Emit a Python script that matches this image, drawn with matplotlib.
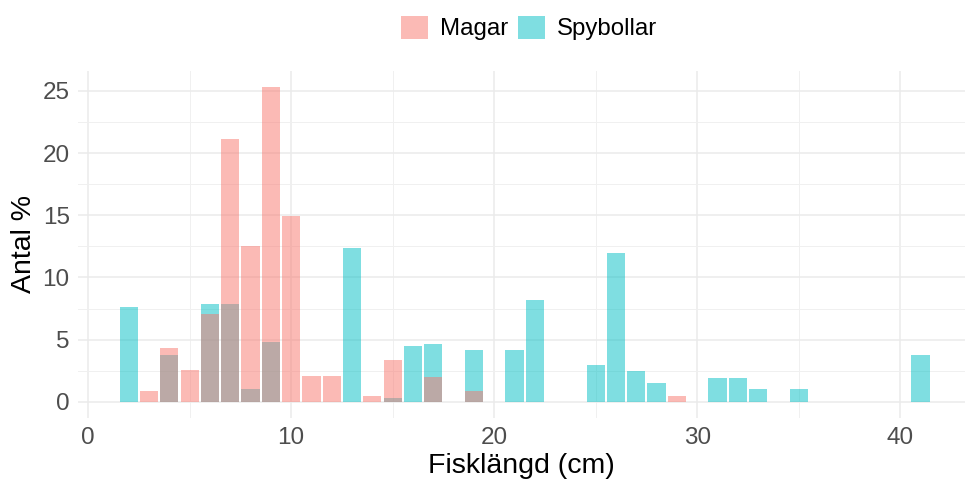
import numpy as np
import matplotlib
matplotlib.use("Agg")
import matplotlib.pyplot as plt
from matplotlib.colors import to_rgba
from matplotlib.patches import Patch

plt.rcParams['font.family'] = ['Liberation Sans', 'DejaVu Sans']

# --- data (percent per 1 cm length class) ---
magar_len = [3, 4, 5, 6, 7, 8, 9, 10, 11, 12, 14, 15, 17, 19, 29]
magar_pct = [0.9, 4.3, 2.55, 7.05, 21.1, 12.5, 25.3, 14.95, 2.05, 2.05, 0.45, 3.4, 2.0, 0.9, 0.45]

spy_len = [2, 4, 6, 7, 8, 9, 13, 15, 16, 17, 19, 21, 22, 25, 26, 27, 28, 31, 32, 33, 35, 41]
spy_pct = [7.6, 3.8, 7.9, 7.9, 1.0, 4.8, 12.4, 0.3, 4.5, 4.65, 4.15, 4.15, 8.2,
           2.95, 12.0, 2.45, 1.55, 1.9, 1.9, 1.05, 1.05, 3.8]

series_names = ['Magar', 'Spybollar']
series_colors = ['#F8766D', '#00BFC4']
ALPHA = 0.5

fig = plt.figure(figsize=(9.69, 4.8), dpi=100)
ax = fig.add_axes([0.0805, 0.130, 0.9155, 0.722])

# cyan first, red on top -> greyish-brown overlap like the reference
for lens, pct, col in [(spy_len, spy_pct, series_colors[1]),
                       (magar_len, magar_pct, series_colors[0])]:
    ax.bar(lens, pct, width=0.9, color=col, alpha=ALPHA, linewidth=0, zorder=3)

ax.set_xlim(-0.5, 43.2)
ax.set_ylim(-1.27, 26.6)
ax.set_xticks([0, 10, 20, 30, 40])
ax.set_xticks([5, 15, 25, 35], minor=True)
ax.set_yticks([0, 5, 10, 15, 20, 25])
ax.set_yticks([2.5, 7.5, 12.5, 17.5, 22.5], minor=True)

ax.grid(which='major', color='#EBEBEB', linewidth=1.1, zorder=0)
ax.grid(which='minor', color='#F0F0F0', linewidth=0.7, zorder=0)
ax.set_axisbelow(True)
for s in ax.spines.values():
    s.set_visible(False)
ax.tick_params(which='both', length=0)
ax.tick_params(axis='both', labelsize=17.5, labelcolor='#4D4D4D')
ax.tick_params(axis='x', pad=7)
ax.tick_params(axis='y', pad=6)

ax.set_xlabel('Fisklängd (cm)', fontsize=20.5, labelpad=3)
ax.set_ylabel('Antal %', fontsize=20.5, labelpad=4)

handles = [Patch(facecolor=to_rgba(c, ALPHA), edgecolor='none') for c in series_colors]
fig.legend(handles, series_names, loc='center', bbox_to_anchor=(0.546, 1 - 28 / 480),
           ncol=2, frameon=False, fontsize=17.3, handlelength=1.12, handleheight=1.12,
           handletextpad=0.5, columnspacing=0.42, borderaxespad=0)

fig.savefig('out.png', dpi=100)
